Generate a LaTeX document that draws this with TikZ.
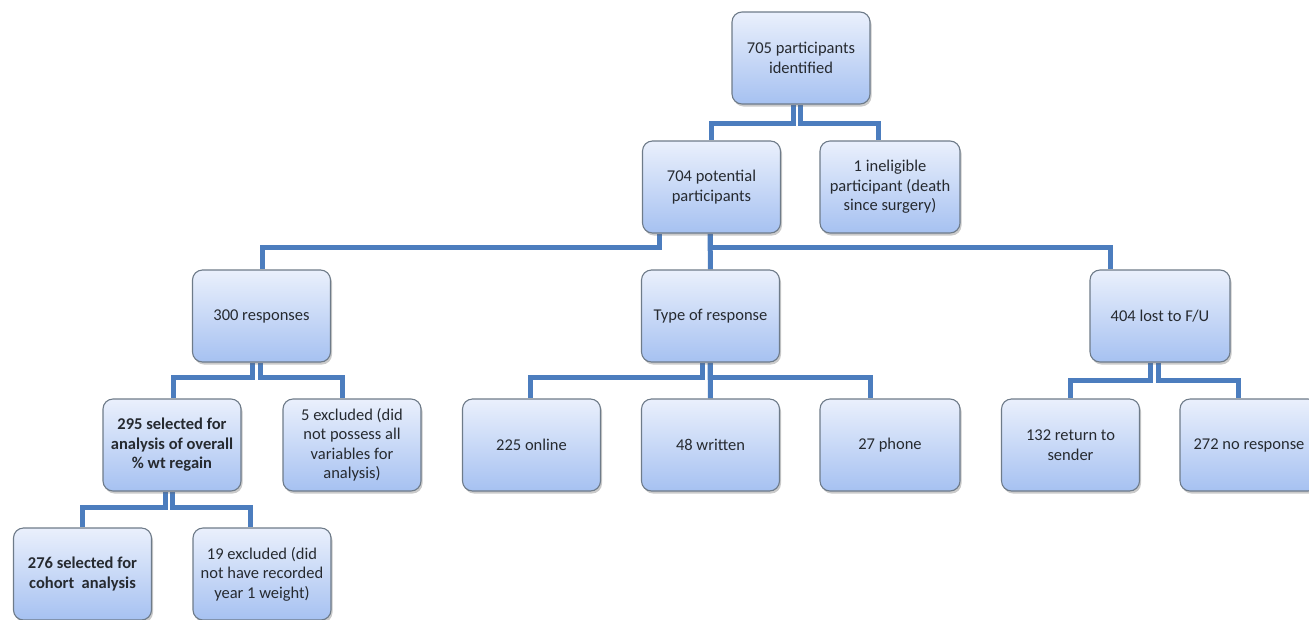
\documentclass[tikz,border=0pt]{standalone}
\usepackage{fontspec}
\setmainfont{Carlito}
\usetikzlibrary{shadows,backgrounds}
\definecolor{boxtop}{HTML}{EAF0FC}
\definecolor{boxbot}{HTML}{A6C1F1}
\definecolor{boxborder}{HTML}{6E7B89}
\definecolor{conncol}{HTML}{4C7DBE}
\definecolor{txt}{HTML}{262A30}
\tikzset{
  box/.style={draw=boxborder, line width=1.1pt, rounded corners=10pt,
    top color=boxtop, bottom color=boxbot, minimum width=138pt, minimum height=92pt,
    align=center, inner sep=0pt, text=txt, font=\fontsize{16.5}{19.5}\selectfont,
    drop shadow={shadow xshift=1.5pt, shadow yshift=-2.5pt, opacity=.35, fill=black!60}},
  conn/.style={draw=conncol, line width=5pt},
}
\begin{document}
\begin{tikzpicture}[x=1pt,y=-1pt]
\clip (0,0) rectangle (1309,619);
\node[box] (n705) at (801,58) {705 participants\\identified};
\node[box] (n704) at (711.5,187) {704 potential\\participants};
\node[box, minimum width=140pt] (inel) at (890,187) {1 ineligible\\participant (death\\since surgery)};
\node[box] (r300) at (261.5,316) {300 responses};
\node[box] (type) at (710.5,316) {Type of response};
\node[box, minimum width=140pt] (lost) at (1160,316) {404 lost to F/U};
\node[box] (s295) at (172,445) {\bfseries 295 selected for\\\bfseries analysis of overall\\\bfseries \% wt regain};
\node[box] (ex5) at (352,445) {5 excluded (did\\not possess all\\variables for\\analysis)};
\node[box] (on225) at (531.5,445) {225 online};
\node[box] (wr48) at (710.5,445) {48 written};
\node[box, minimum width=140pt] (ph27) at (890,445) {27 phone};
\node[box] (ret132) at (1070.5,445) {132 return to\\sender};
\node[box] (nr272) at (1249,445) {272 no response};
\node[box] (s276) at (82.5,574) {\bfseries 276 selected for\\\bfseries cohort\ \ analysis};
\node[box] (ex19) at (262,574) {19 excluded (did\\not have recorded\\year 1 weight)};
\begin{scope}[on background layer]
\draw[conn] ([xshift=-8pt]n705.south) -- ++(0,18.5) -| (n704.north);
\draw[conn] ([xshift=-1pt]n705.south) -- ++(0,18.5) -| ([xshift=-12pt]inel.north);
\draw[conn] ([xshift=-52pt]n704.south) -- ++(0,14) -| ([xshift=0.5pt]r300.north);
\draw[conn] ([xshift=-1.5pt]n704.south) -- ++(0,14) -| ([xshift=-50pt]lost.north);
\draw[conn] ([xshift=-1.5pt]n704.south) -- (type.north);
\draw[conn] ([xshift=-9.5pt]r300.south) -- ++(0,15) -| ([xshift=1pt]s295.north);
\draw[conn] ([xshift=-1.5pt]r300.south) -- ++(0,15) -| ([xshift=-10pt]ex5.north);
\draw[conn] ([xshift=-8.5pt]type.south) -- ++(0,15) -| ([xshift=-1.5pt]on225.north);
\draw[conn] ([xshift=-0.5pt]type.south) -- ++(0,15) -| ([xshift=-20pt]ph27.north);
\draw[conn] ([xshift=-0.5pt]type.south) -- (wr48.north);
\draw[conn] ([xshift=-10pt]lost.south) -- ++(0,18) -| ([xshift=-0.5pt]ret132.north);
\draw[conn] ([xshift=-2pt]lost.south) -- ++(0,18) -| ([xshift=-11pt]nr272.north);
\draw[conn] ([xshift=-7pt]s295.south) -- ++(0,16) -| ([xshift=-0.5pt]s276.north);
\draw[conn] ([xshift=0pt]s295.south) -- ++(0,16) -| ([xshift=-12pt]ex19.north);
\end{scope}
\end{tikzpicture}
\end{document}
